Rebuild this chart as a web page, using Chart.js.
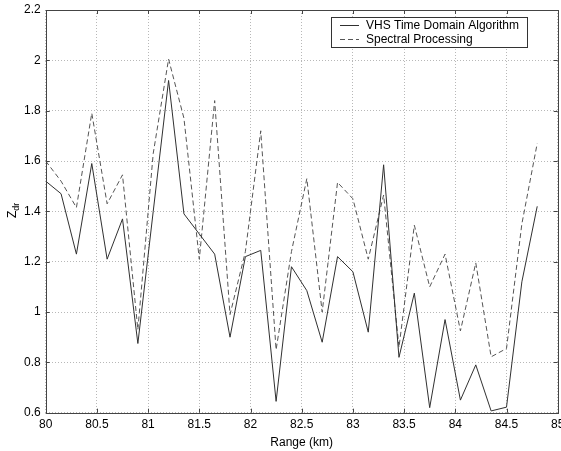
<!DOCTYPE html>
<html>
<head>
<meta charset="utf-8">
<script src="https://cdn.jsdelivr.net/npm/chart.js@4"></script>
<style>
  html, body { margin: 0; padding: 0; background: #fff; }
</style>
</head>
<body>
<canvas id="grafico" width="561" height="451"></canvas>
<script>
// Dados
const alcance = [80, 80.15, 80.3, 80.45, 80.6, 80.75, 80.9, 81.05, 81.2, 81.35, 81.5,
  81.65, 81.8, 81.95, 82.1, 82.25, 82.4, 82.55, 82.7, 82.85, 83, 83.15,
  83.3, 83.45, 83.6, 83.75, 83.9, 84.05, 84.2, 84.35, 84.5, 84.65, 84.8];
const vhs = [1.52, 1.47, 1.23, 1.59, 1.21, 1.37, 0.875, 1.40, 1.92, 1.39, 1.31,
  1.23, 0.90, 1.22, 1.245, 0.645, 1.18, 1.085, 0.88, 1.22, 1.16, 0.92,
  1.585, 0.82, 1.075, 0.62, 0.97, 0.65, 0.79, 0.607, 0.622, 1.12, 1.42];
const espectral = [1.60, 1.52, 1.415, 1.79, 1.43, 1.545, 0.93, 1.63, 2.005, 1.77, 1.21,
  1.84, 0.99, 1.24, 1.72, 0.85, 1.24, 1.53, 1.0, 1.515, 1.45, 1.21,
  1.465, 0.86, 1.345, 1.10, 1.23, 0.925, 1.195, 0.822, 0.855, 1.35, 1.67];
const xTicks = [80, 80.5, 81, 81.5, 82, 82.5, 83, 83.5, 84, 84.5, 85];
const yTicks = [0.6, 0.8, 1, 1.2, 1.4, 1.6, 1.8, 2, 2.2];
const yTickLabels = ['0.6', '0.8', '1', '1.2', '1.4', '1.6', '1.8', '2', '2.2'];
const nomes = ['VHS Time Domain Algorithm', 'Spectral Processing'];

const fonte = 'Arial, "Liberation Sans", Helvetica, sans-serif';

// Moldura, marcas internas, legenda e rótulo do eixo y
const extras = {
  id: 'extras',
  afterDatasetsDraw(chart) {
    const { ctx, chartArea: a, scales } = chart;
    ctx.save();
    ctx.strokeStyle = '#444';
    ctx.lineWidth = 1;
    ctx.setLineDash([]);
    ctx.strokeRect(Math.round(a.left) + 0.5, Math.round(a.top) + 0.5,
      Math.round(a.right - a.left), Math.round(a.bottom - a.top));
    ctx.beginPath();
    xTicks.forEach(v => {
      const px = Math.round(scales.x.getPixelForValue(v)) + 0.5;
      ctx.moveTo(px, a.bottom); ctx.lineTo(px, a.bottom - 4);
      ctx.moveTo(px, a.top); ctx.lineTo(px, a.top + 4);
    });
    yTicks.forEach(v => {
      const py = Math.round(scales.y.getPixelForValue(v)) + 0.5;
      ctx.moveTo(a.left, py); ctx.lineTo(a.left + 4, py);
      ctx.moveTo(a.right, py); ctx.lineTo(a.right - 4, py);
    });
    ctx.stroke();

    // legenda
    const lx = 331.5, ly = 17.5, lw = 196, lh = 30;
    ctx.fillStyle = '#fff';
    ctx.fillRect(lx, ly, lw, lh);
    ctx.strokeStyle = '#333';
    ctx.strokeRect(lx, ly, lw, lh);
    ctx.font = '12px ' + fonte;
    ctx.fillStyle = '#000';
    ctx.textBaseline = 'middle';
    ctx.textAlign = 'left';
    const linhas = [{ y: 25.5, dash: [], cor: '#303030' }, { y: 39.5, dash: [5, 3], cor: '#555' }];
    linhas.forEach((l, i) => {
      ctx.strokeStyle = l.cor;
      ctx.setLineDash(l.dash);
      ctx.beginPath();
      ctx.moveTo(340, l.y); ctx.lineTo(359, l.y);
      ctx.stroke();
      ctx.fillText(nomes[i], 366, l.y);
    });
    ctx.setLineDash([]);

    // rótulo Z_dr
    ctx.translate(12, 210);
    ctx.rotate(-Math.PI / 2);
    ctx.textBaseline = 'alphabetic';
    ctx.font = '12px ' + fonte;
    ctx.fillText('Z', -8, 4);
    const wz = ctx.measureText('Z').width;
    ctx.font = '9px ' + fonte;
    ctx.fillText('dr', -8 + wz, 7);
    ctx.restore();
  }
};

const ctx = document.getElementById('grafico');
new Chart(ctx, {
  type: 'line',
  data: {
    datasets: [{
      label: nomes[0],
      data: alcance.map((x, i) => ({ x: x, y: vhs[i] })),
      borderColor: '#303030',
      borderWidth: 1,
      pointRadius: 0,
      tension: 0
    }, {
      label: nomes[1],
      data: alcance.map((x, i) => ({ x: x, y: espectral[i] })),
      borderColor: '#555',
      borderWidth: 1,
      borderDash: [5, 3],
      pointRadius: 0,
      tension: 0
    }]
  },
  options: {
    responsive: false,
    animation: false,
    layout: { padding: { left: 0, right: 3.3, top: 10, bottom: 0 } },
    plugins: { legend: { display: false }, tooltip: { enabled: false } },
    scales: {
      x: {
        type: 'linear', min: 80, max: 85,
        afterBuildTicks: s => { s.ticks = xTicks.map(v => ({ value: v })); },
        afterFit: s => { s.height = 38.3; s.paddingLeft = 0; s.paddingRight = 0; },
        grid: { color: '#b8b8b8', lineWidth: 1, drawTicks: false },
        border: { display: false, dash: [1, 2] },
        ticks: { padding: 5, color: '#000', maxRotation: 0, autoSkip: false,
          font: { family: fonte, size: 12 }, callback: v => String(v) },
        title: { display: true, text: 'Range (km)', color: '#000',
          font: { family: fonte, size: 12 }, padding: { top: 0, bottom: 1 } }
      },
      y: {
        type: 'linear', min: 0.6, max: 2.2,
        afterBuildTicks: s => { s.ticks = yTicks.map(v => ({ value: v })); },
        afterFit: s => { s.width = 45.7; s.paddingTop = 0; s.paddingBottom = 0; },
        grid: { color: '#b8b8b8', lineWidth: 1, drawTicks: false },
        border: { display: false, dash: [1, 2] },
        ticks: { padding: 5, color: '#000', autoSkip: false,
          font: { family: fonte, size: 12 },
          callback: (v, i) => yTickLabels[i] }
      }
    }
  },
  plugins: [extras]
});
</script>
</body>
</html>
